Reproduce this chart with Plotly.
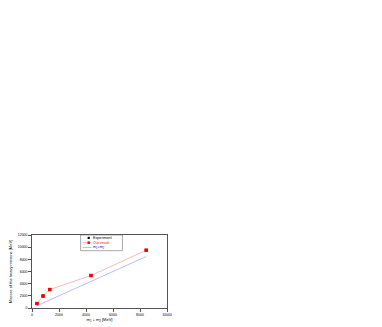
import plotly.graph_objects as go

# Data
sum_masses = [370, 820, 1315, 4370, 8460]          # m1 + m2 [MeV]
experiment = [730, 1970, 3030, 5340, 9490]          # experiment [MeV]
our_result = [730, 1970, 3030, 5340, 9490]          # our result [MeV]
line_x = [360, 8460]
line_y = [360, 8460]
x_ticks = [0, 2000, 4000, 6000, 8000, 10000]
y_ticks = [0, 2000, 4000, 6000, 8000, 10000, 12000]
legend_names = ["Experiment", "Our result", "m<sub>1</sub>+m<sub>2</sub>"]

FONT = "Arial, Liberation Sans"
RED_LINE = "#ee8f8f"
BLUE_LINE = "#8f8fff"

fig = go.Figure()
fig.add_trace(go.Scatter(x=sum_masses, y=experiment, mode="markers", name=legend_names[0],
                         marker=dict(symbol="square", size=3, color="black")))
fig.add_trace(go.Scatter(x=sum_masses, y=our_result, mode="lines+markers", name=legend_names[1],
                         line=dict(color=RED_LINE, width=0.6),
                         marker=dict(symbol="square", size=3.5, color="red")))
fig.add_trace(go.Scatter(x=line_x, y=line_y, mode="lines", name=legend_names[2],
                         line=dict(color=BLUE_LINE, width=0.6)))

axis_common = dict(showgrid=False, zeroline=False, showline=True, linecolor="#555555",
                   linewidth=0.6, mirror=True, ticks="outside", ticklen=3, tickwidth=0.5,
                   tickcolor="#555555", automargin=False,
                   tickfont=dict(size=3.5, family=FONT, color="black"))
fig.update_xaxes(range=[0, 10000], tickvals=x_ticks, ticktext=[str(v) for v in x_ticks],
                 title=dict(text="m<sub>1</sub> + m<sub>2</sub> [MeV]", standoff=0,
                            font=dict(size=4, family=FONT, color="black")),
                 **axis_common)
fig.update_yaxes(range=[0, 12000], tickvals=y_ticks, ticktext=[str(v) for v in y_ticks],
                 title=dict(text="Masses of the heavy mesons [MeV]", standoff=6,
                            font=dict(size=4, family=FONT, color="black")),
                 **axis_common)

# Hand-drawn legend box (plotly's own legend cannot be made this small)
lx0, lx1, ly0, ly1 = 0.36, 0.67, 0.785, 1.0
shapes = [dict(type="rect", xref="x domain", yref="y domain", x0=lx0, x1=lx1, y0=ly0, y1=ly1,
               line=dict(color="#555555", width=0.5), fillcolor="white", layer="above")]
rows_y = [0.96, 0.895, 0.83]
sym_x = 0.42
text_x = 0.44
# Experiment: black square
shapes.append(dict(type="rect", xref="x domain", yref="y domain",
                   x0=sym_x - 0.008, x1=sym_x + 0.008, y0=rows_y[0] - 0.015, y1=rows_y[0] + 0.015,
                   line=dict(width=0), fillcolor="black", layer="above"))
# Our result: red line + red square
shapes.append(dict(type="line", xref="x domain", yref="y domain",
                   x0=sym_x - 0.045, x1=sym_x + 0.02, y0=rows_y[1], y1=rows_y[1],
                   line=dict(color=RED_LINE, width=0.6), layer="above"))
shapes.append(dict(type="rect", xref="x domain", yref="y domain",
                   x0=sym_x - 0.009, x1=sym_x + 0.009, y0=rows_y[1] - 0.017, y1=rows_y[1] + 0.017,
                   line=dict(width=0), fillcolor="red", layer="above"))
# m1+m2: blue line
shapes.append(dict(type="line", xref="x domain", yref="y domain",
                   x0=sym_x - 0.045, x1=sym_x + 0.02, y0=rows_y[2], y1=rows_y[2],
                   line=dict(color=BLUE_LINE, width=0.6), layer="above"))

text_colors = ["black", "red", "blue"]
annotations = [dict(xref="x domain", yref="y domain", x=text_x, y=ry, text=name,
                    showarrow=False, xanchor="left", yanchor="middle",
                    font=dict(size=3.7, family=FONT, color=c))
               for ry, name, c in zip(rows_y, legend_names, text_colors)]

# The page is shown with the browser's 8px body margin, so offsets are reduced by 8px.
fig.update_layout(
    width=382, height=327,
    margin=dict(l=24, r=223, t=227, b=27),
    paper_bgcolor="white", plot_bgcolor="white",
    showlegend=False,
    shapes=shapes, annotations=annotations,
)
fig.write_html("out.html")
